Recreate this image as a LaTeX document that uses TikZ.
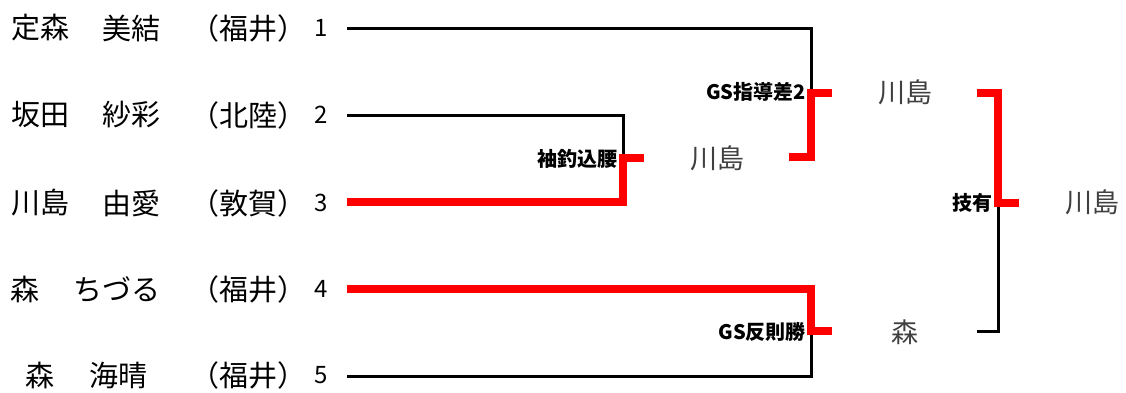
\documentclass[tikz,border=0pt]{standalone}
\usepackage{fontspec}
\setmainfont{Noto Sans CJK JP}
\begin{document}
\begin{tikzpicture}[x=1pt,y=-1pt,
  nm/.style={font=\fontsize{29}{31}\selectfont, inner sep=0},
  num/.style={font=\fontsize{24}{26}\selectfont, inner sep=0},
  win/.style={font=\fontsize{27}{29}\selectfont, text=black!75, inner sep=0},
  lbl/.style={font=\fontsize{20}{22}\selectfont\bfseries, inner sep=0, anchor=east},
  lose/.style={line width=3pt, black, line join=miter},
  wline/.style={line width=7.5pt, red, line join=miter}]
\useasboundingbox (0,0) rectangle (1126,392);
% entrants
\node[nm] (s1) at (40,28) {定森}; \node[nm] (g1) at (131,28) {美結};
\node[nm] (p1) at (248,28) {（福井）}; \node[num] (n1) at (321,28) {1};
\node[nm] (s2) at (40,115) {坂田}; \node[nm] (g2) at (131,115) {紗彩};
\node[nm] (p2) at (248,115) {（北陸）}; \node[num] (n2) at (321,115) {2};
\node[nm] (s3) at (40,203) {川島}; \node[nm] (g3) at (131,203) {由愛};
\node[nm] (p3) at (248,203) {（敦賀）}; \node[num] (n3) at (321,203) {3};
\node[nm] (s4) at (25,289) {森}; \node[nm] (g4) at (117,289) {ちづる};
\node[nm] (p4) at (248,289) {（福井）}; \node[num] (n4) at (321,289) {4};
\node[nm] (s5) at (40,375) {森}; \node[nm] (g5) at (118,375) {海晴};
\node[nm] (p5) at (248,375) {（福井）}; \node[num] (n5) at (321,375) {5};
% winners
\node[win] (w23) at (717,158) {川島};
\node[win] (w123) at (905,92) {川島};
\node[win] (w45) at (905,332) {森};
\node[win] (wf) at (1092,202) {川島};
% labels
\node[lbl] (l23) at (618,159) {袖釣込腰};
\node[lbl] (l123) at (806,92) {GS指導差2};
\node[lbl] (l45) at (806,332) {GS反則勝};
\node[lbl] (lf) at (993,203) {技有};
% coordinates
\coordinate (a1) at (347,28);
\coordinate (a2) at (347,115);
\coordinate (a3) at (347,202);
\coordinate (a4) at (347,289);
\coordinate (a5) at (347,376);
\coordinate (j23) at (623,158);
\coordinate (t23) at (644,158);
\coordinate (b23) at (789,157);
\coordinate (j123) at (811,93);
\coordinate (t123) at (832,93);
\coordinate (j45) at (811,331);
\coordinate (t45) at (832,331);
\coordinate (b123) at (977,93);
\coordinate (b45) at (977,331);
\coordinate (jf) at (998,203);
\coordinate (tf) at (1019,203);
% losers
\draw[lose] (a2) -| (j23);
\draw[lose] (a1) -| (j123);
\draw[lose] (a5) -| (j45);
\draw[lose] (b45) -| (jf);
% winners
\draw[wline] (a3) -| (j23) -- (t23);
\draw[wline] (b23) -| (j123) -- (t123);
\draw[wline] (a4) -| (j45) -- (t45);
\draw[wline] (b123) -| (jf) -- (tf);
\end{tikzpicture}
\end{document}
